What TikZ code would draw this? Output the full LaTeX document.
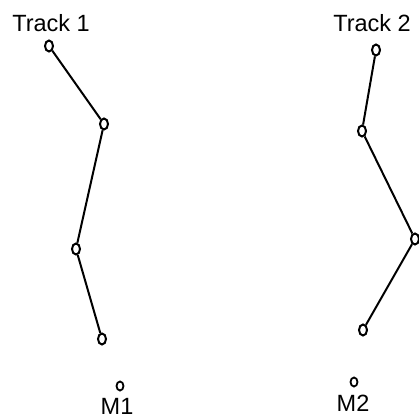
\documentclass[tikz,border=0pt]{standalone}
\usepackage{fontspec}
\setmainfont{Liberation Sans}
\usetikzlibrary{shapes.geometric}
\begin{document}
\begin{tikzpicture}[x=1pt,y=-1pt,
  marker/.style={ellipse,draw,line width=2pt,inner sep=0pt,minimum width=8pt,minimum height=11pt},
  meas/.style={ellipse,draw,line width=1.8pt,inner sep=0pt,minimum width=7pt,minimum height=9pt},
  seg/.style={line width=2pt},
  lbl/.style={font=\fontsize{23.5}{26}\selectfont,inner sep=0pt}]
\useasboundingbox (0,0) rectangle (419,419);
% Track 1
\node[marker] (a1) at (49,46) {};
\node[marker] (a2) at (104,124) {};
\node[marker] (a3) at (76,249) {};
\node[marker] (a4) at (102,339) {};
\draw[seg] (a1) -- (a2) -- (a3) -- (a4);
% Track 2
\node[marker] (b1) at (376,50) {};
\node[marker] (b2) at (362,131) {};
\node[marker] (b3) at (415,239) {};
\node[marker] (b4) at (363,330) {};
\draw[seg] (b1) -- (b2) -- (b3) -- (b4);
% measurements
\node[meas] (m1) at (120,386) {};
\node[meas] (m2) at (354,382) {};
% labels
\node[lbl] (t1) at (51,23) {Track 1};
\node[lbl] (t2) at (372,23) {Track 2};
\node[lbl] (l1) at (117,406) {M1};
\node[lbl] (l2) at (353,403) {M2};
\end{tikzpicture}
\end{document}
